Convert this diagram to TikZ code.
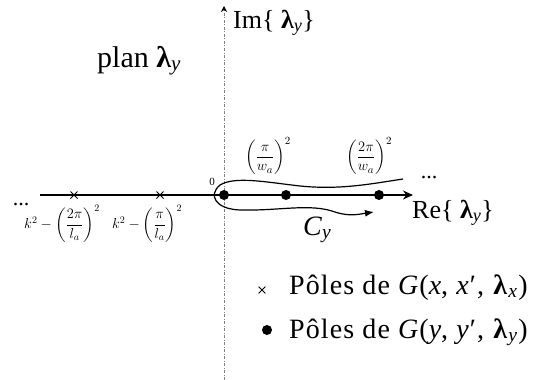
\documentclass[tikz,border=0pt]{standalone}
\usepackage{amsmath}
\usepackage{fontspec}
\setmainfont{Liberation Serif}
\usetikzlibrary{arrows.meta,shapes.misc}
\newcommand{\lamy}{\textbf{λ}\textsubscript{\textit{y}}}
\newcommand{\lamx}{\textbf{λ}\textsubscript{\textit{x}}}
\begin{document}
\begin{tikzpicture}[x=1pt,y=-1pt,
  big/.style={inner sep=0pt, font=\fontsize{26}{28}\selectfont},
  legend/.style={inner sep=0pt, font=\fontsize{28}{30}\selectfont\addfontfeatures{LetterSpace=4}},
  small/.style={inner sep=0pt, font=\fontsize{14}{16}\selectfont},
  crossmark/.style={cross out, draw, line width=1pt, minimum size=6pt, inner sep=0pt},
  dotmark/.style={circle, fill, minimum size=10pt, inner sep=0pt},
  axisline/.style={line width=1.6pt, -{Stealth[length=10pt,width=9pt]}},
  imaxis/.style={gray, line width=0.8pt, dash pattern=on 3pt off 1.5pt on 1pt off 1.5pt, -{Stealth[length=6pt,width=6pt,black]}},
  contour/.style={line width=1.2pt, -{Latex[length=9pt,width=7pt]}}]
\useasboundingbox (0,0) rectangle (549,380);
% imaginary axis
\coordinate (ybot) at (224,380);
\coordinate (ytop) at (224,6);
\draw[imaxis] (ybot) -- (ytop);
\node[big, anchor=base west] (im) at (233,28) {Im\{ \lamy\}};
\node[big, anchor=base west, font=\fontsize{30}{32}\selectfont] (plan) at (97,67) {plan \lamy};
% real axis
\coordinate (xl) at (40,195);
\coordinate (xr) at (413,195);
\draw[axisline] (xl) -- (xr);
\node[big, anchor=base west] (re) at (412,218) {Re\{ \lamy\}};
\node[small, font=\fontsize{22}{24}\selectfont] (dotsl) at (21,205) {...};
\node[small, font=\fontsize{22}{24}\selectfont] (dotsr) at (429,178) {...};
\node[small, font=\fontsize{11}{13}\selectfont] (zero) at (212,182) {0};
% poles
\node[crossmark] (c1) at (74,195) {};
\node[crossmark] (c2) at (160,195) {};
\node[dotmark] (p0) at (224,195) {};
\node[dotmark] (p1) at (286,195) {};
\node[dotmark] (p2) at (379,195) {};
% labels
\node[small, anchor=north] (l1) at (62,205) {$k^2-\left(\dfrac{2\pi}{l_a}\right)^{2}$};
\node[small, anchor=north] (l2) at (147,205) {$k^2-\left(\dfrac{\pi}{l_a}\right)^{2}$};
\node[small, anchor=south, font=\fontsize{15}{17}\selectfont] (u1) at (268,175) {$\left(\dfrac{\pi}{w_a}\right)^{2}$};
\node[small, anchor=south, font=\fontsize{15}{17}\selectfont] (u2) at (369,175) {$\left(\dfrac{2\pi}{w_a}\right)^{2}$};
% contour
\draw[contour] (403,179) .. controls (370,184) and (340,190) .. (300,186)
  .. controls (265,182) and (235,176) .. (220,185)
  .. controls (208,195) and (215,209) .. (240,210)
  .. controls (280,211) and (310,203) .. (335,212)
  .. controls (350,217) and (360,214) .. (374,212);
\node[big, anchor=base west, font=\fontsize{28}{30}\selectfont] (cy) at (303,235) {\textit{C}\textsubscript{\textit{y}}};
% legend
\node[crossmark, minimum size=6pt, line width=0.8pt] (lc) at (262,290) {};
\node[legend, anchor=base west] (lt1) at (289,294) {Pôles de \textit{G}(\textit{x}, \textit{x}′, \lamx)};
\node[dotmark] (ld) at (267,330) {};
\node[legend, anchor=base west] (lt2) at (289,338) {Pôles de \textit{G}(\textit{y}, \textit{y}′, \lamy)};
\end{tikzpicture}
\end{document}
